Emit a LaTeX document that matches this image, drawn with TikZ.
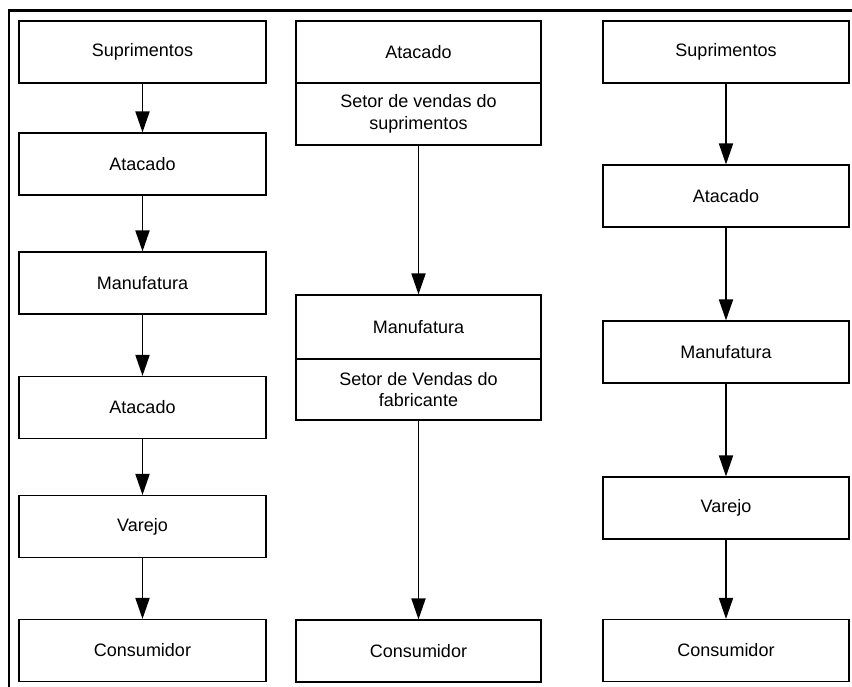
\documentclass[tikz,border=0pt]{standalone}
\usepackage{fontspec}
\setmainfont{Liberation Sans}
\usetikzlibrary{arrows.meta}
\begin{document}
\begin{tikzpicture}[x=1pt,y=-1pt,
  box/.style={draw=black,line width=1.1pt,rectangle,inner sep=0pt,
    align=center,font=\fontsize{18}{21.5}\selectfont,
    minimum height=62pt},
  col1/.style={box,minimum width=247pt},
  col2/.style={box,minimum width=245pt},
  col3/.style={box,minimum width=246pt},
  flow/.style={line width=1.8pt,-{Triangle[width=14pt,length=21pt]}},
  frameline/.style={line width=2.8pt,line cap=rect}]
\useasboundingbox (0,0) rectangle (852,686);

% outer frame (left and top edges)
\coordinate (fbl) at (9,686);
\coordinate (ftl) at (9,10.5);
\coordinate (ftr) at (852,10.5);
\draw[frameline] (fbl) -- (ftl) -- (ftr);

% first chain
\node[col1] (s1) at (142.5,52) {Suprimentos};
\node[col1] (a1) at (142.5,164) {Atacado};
\node[col1] (m1) at (142.5,283) {Manufatura};
\node[col1] (w1) at (142.5,407.5) {Atacado};
\node[col1] (v1) at (142.5,526.5) {Varejo};
\node[col1] (c1) at (142.5,650.5) {Consumidor};
\draw[flow] (s1) -- (a1);
\draw[flow] (a1) -- (m1);
\draw[flow] (m1) -- (w1);
\draw[flow] (w1) -- (v1);
\draw[flow] (v1) -- (c1);

% second chain, with sales sectors attached
\node[col2] (a2) at (418.5,52) {Atacado};
\node[col2] (sv2) at (418.5,114) {Setor de vendas do\\suprimentos};
\node[col2,minimum height=64pt] (m2) at (418.5,327) {Manufatura};
\node[col2,minimum height=61pt] (sf2) at (418.5,389.5) {Setor de Vendas do\\fabricante};
\node[col2] (c2) at (418.5,651) {Consumidor};
\draw[flow] (sv2) -- (m2);
\draw[flow] (sf2) -- (c2);

% third chain
\node[col3] (s3) at (726,52) {Suprimentos};
\node[col3] (a3) at (726,196) {Atacado};
\node[col3] (m3) at (726,352) {Manufatura};
\node[col3] (v3) at (726,508) {Varejo};
\node[col3] (c3) at (726,650.5) {Consumidor};
\draw[flow] (s3) -- (a3);
\draw[flow] (a3) -- (m3);
\draw[flow] (m3) -- (v3);
\draw[flow] (v3) -- (c3);
\end{tikzpicture}
\end{document}
